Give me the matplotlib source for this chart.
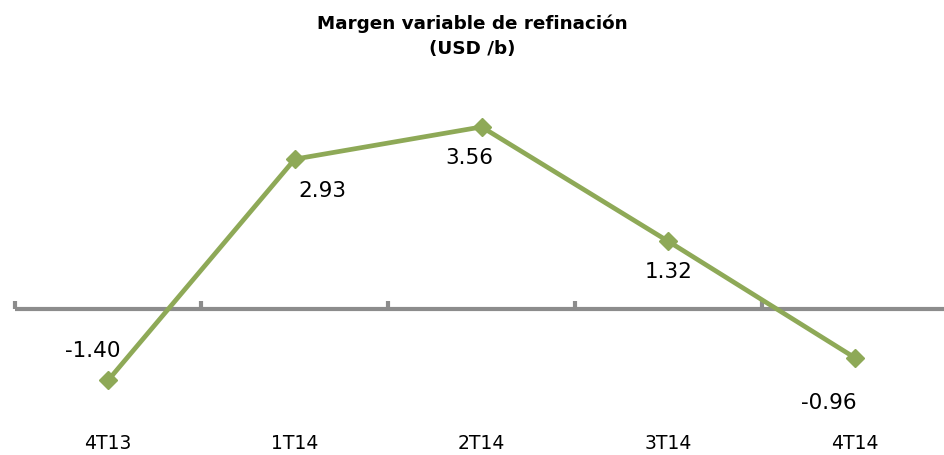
import numpy as np
import matplotlib.pyplot as plt

quarters = ['4T13', '1T14', '2T14', '3T14', '4T14']
margin = [-1.40, 2.93, 3.56, 1.32, -0.96]

# label offsets in points (dx, dy)
label_offsets = [(-11, 22), (20, -22), (-9, -22), (0, -21), (-19, -32)]

green = '#8EA957'
gray = '#8C8C8C'

fig = plt.figure(figsize=(9.44, 4.56), dpi=100)
ax = fig.add_axes([0, 0.079, 1, 0.803 - 0.079])

x = np.arange(len(quarters))

# axis line at zero with small ticks between categories
ax.plot([-0.5, len(quarters) - 0.5], [0, 0], color=gray, lw=3, solid_capstyle='butt', zorder=1)
ax.vlines(x - 0.5, 0, 0.16, color=gray, lw=3, zorder=1)

ax.plot(x, margin, color=green, lw=3.4, marker='D', markersize=9.5, zorder=3)

for xi, v, off in zip(x, margin, label_offsets):
    ax.annotate(f'{v:.2f}', xy=(xi, v), xytext=off, textcoords='offset points',
                ha='center', va='center', fontsize=15.5, color='black')

ax.set_xlim(-0.578, 4.475)
ax.set_ylim(-2.153, 4.305)
ax.set_xticks(x)
ax.set_xticklabels(quarters, fontsize=13.5)
ax.tick_params(axis='x', length=0, pad=10)
ax.set_yticks([])
for s in ax.spines.values():
    s.set_visible(False)
ax.patch.set_visible(False)

fig.text(0.5, 0.921, 'Margen variable de refinación\n(USD /b)', ha='center', va='center',
         fontsize=13.2, fontweight='bold', linespacing=1.5)

fig.savefig('out.png', dpi=100)
